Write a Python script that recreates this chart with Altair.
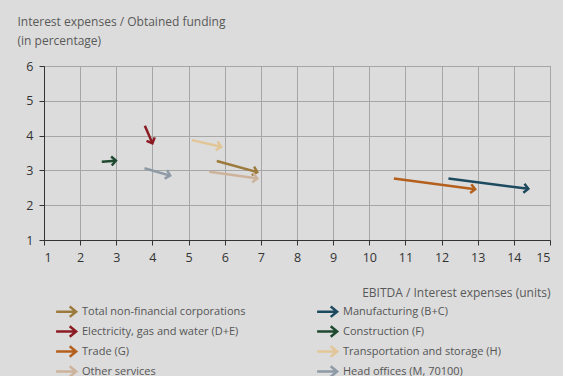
import math
import altair as alt
import pandas as pd

sectors = [
    "Total non-financial corporations",
    "Electricity, gas and water (D+E)",
    "Trade (G)",
    "Other services",
    "Manufacturing (B+C)",
    "Construction (F)",
    "Transportation and storage (H)",
    "Head offices (M, 70100)",
]
colors = ["#9c7a3c", "#8c1c24", "#b4601c", "#cdb39c", "#1d4a5f", "#1f4a30", "#e2c697", "#8e9aa6"]
x_start = [5.78, 3.79, 10.68, 5.57, 12.19, 2.60, 5.09, 3.78]
x_end = [6.90, 4.00, 12.93, 6.90, 14.40, 2.99, 5.90, 4.49]
y_start = [3.27, 4.28, 2.77, 2.96, 2.77, 3.25, 3.87, 3.06]
y_end = [2.95, 3.78, 2.46, 2.77, 2.47, 3.28, 3.68, 2.85]
x_ticks = list(range(1, 16))
y_ticks = [1, 2, 3, 4, 5, 6]

W, H = 506, 174
XMIN, XMAX, YMIN, YMAX = 1, 15, 1, 6
px_x = W / (XMAX - XMIN)
px_y = H / (YMAX - YMIN)

angles = [
    math.degrees(math.atan2(-(ye - ys) * px_y, (xe - xs) * px_x)) % 360
    for xs, xe, ys, ye in zip(x_start, x_end, y_start, y_end)
]

df = pd.DataFrame({
    "sector": sectors,
    "xs": x_start, "xe": x_end, "ys": y_start, "ye": y_end,
    "angle": angles,
})

FONT = "Open Sans"
cscale = alt.Scale(domain=sectors, range=colors)
color = alt.Color(
    "sector:N",
    scale=cscale,
    sort=sectors,
    legend=alt.Legend(
        title=None,
        orient="none",
        legendX=13,
        legendY=236,
        columns=2,
        columnPadding=66,
        rowPadding=-6,
        symbolType="M-1.3,0L1.2,0M0.4,-0.65L1.2,0L0.4,0.65",
        symbolSize=256,
        symbolStrokeWidth=2.5,
        symbolFillColor="transparent",
        labelFont=FONT,
        labelFontSize=11,
        labelColor="#555555",
        labelOffset=6,
        labelLimit=300,
        labelOverlap=False,
    ),
)

xscale = alt.Scale(domain=[XMIN, XMAX], nice=False)
yscale = alt.Scale(domain=[YMIN, YMAX], nice=False)

x_axis = alt.Axis(
    values=x_ticks,
    labelOverlap=False,
    title="EBITDA / Interest expenses (units)",
    titleAnchor="end",
    titleAlign="right",
    titleX=W,
    titleY=47,
    titleFont=FONT,
    titleFontSize=12,
    titleFontWeight="normal",
    titleColor="#595959",
    labelFont=FONT,
    labelFontSize=12.5,
    labelColor="#333333",
    labelPadding=6,
    domainColor="#333333",
    tickColor="#333333",
    tickSize=5,
    grid=True,
    gridColor="#a6a6a6",
)
y_axis = alt.Axis(
    values=y_ticks,
    labelOverlap=False,
    title=["Interest expenses / Obtained funding", "(in percentage)"],
    titleAngle=0,
    titleAlign="left",
    titleBaseline="alphabetic",
    titleX=-27,
    titleY=-41,
    titleLineHeight=19,
    titleFont=FONT,
    titleFontSize=12,
    titleFontWeight="normal",
    titleColor="#595959",
    labelFont=FONT,
    labelFontSize=12.5,
    labelColor="#333333",
    labelPadding=6,
    domainColor="#333333",
    tickColor="#333333",
    tickSize=5,
    grid=True,
    gridColor="#a6a6a6",
)

base = alt.Chart(df)

lines = base.mark_rule(strokeWidth=2.5).encode(
    x=alt.X("xs:Q", scale=xscale, axis=x_axis),
    x2="xe:Q",
    y=alt.Y("ys:Q", scale=yscale, axis=y_axis),
    y2="ye:Q",
    color=color,
)

heads = base.mark_point(
    shape="M-1,-1L0,0L-1,1",
    filled=False,
    strokeWidth=2.5,
    size=80,
    opacity=1,
).encode(
    x=alt.X("xe:Q", scale=xscale, axis=x_axis),
    y=alt.Y("ye:Q", scale=yscale, axis=y_axis),
    angle=alt.Angle("angle:Q", scale=None),
    color=color,
)

chart = (
    alt.layer(lines, heads)
    .properties(
        width=W,
        height=H,
        background="#dcdcdc",
        padding={"left": 44, "top": 66, "right": 13, "bottom": 136},
        autosize=alt.AutoSizeParams(type="none"),
    )
    .configure_view(stroke="#888888", fill="#dcdcdc")
)

chart.save("out.html", embed_options={"renderer": "svg", "actions": False})
